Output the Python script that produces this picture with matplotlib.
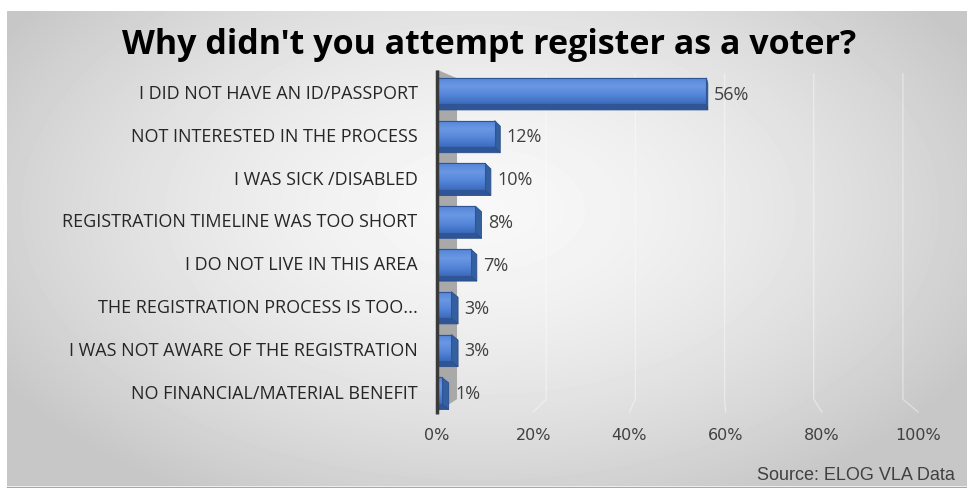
import numpy as np
import matplotlib
matplotlib.use('Agg')
import matplotlib.pyplot as plt
from matplotlib.patches import Polygon
from matplotlib.colors import LinearSegmentedColormap

# chart data
categories = [
    'I DID NOT HAVE AN ID/PASSPORT',
    'NOT INTERESTED IN THE PROCESS',
    'I WAS SICK /DISABLED',
    'REGISTRATION TIMELINE WAS TOO SHORT',
    'I DO NOT LIVE IN THIS AREA',
    'THE REGISTRATION PROCESS IS TOO...',
    'I WAS NOT AWARE OF THE REGISTRATION',
    'NO FINANCIAL/MATERIAL BENEFIT',
]
values = [56, 12, 10, 8, 7, 3, 3, 1]
ticks = [0, 20, 40, 60, 80, 100]
tick_labels = ['0%', '20%', '40%', '60%', '80%', '100%']

W, H = 967, 489
fig = plt.figure(figsize=(W / 100, H / 100), dpi=100)
fig.patch.set_facecolor('white')

# gray radial-gradient panel behind everything
bg = fig.add_axes([0, 0, 1, 1])
xx, yy = np.meshgrid(np.arange(7, W), np.arange(12, 487))
r = np.sqrt(((xx - 480) / 560) ** 2 + ((yy - 210) / 330) ** 2)
shade = 0.97 - 0.19 * np.clip(r, 0, 1) ** 1.6
bg.imshow(shade, cmap='gray', vmin=0, vmax=1, extent=(7, W, 487, 12),
          aspect='auto', interpolation='bilinear')
bg.plot([7, W], [487.5, 487.5], color='#a8a8a8', lw=1)
bg.set_xlim(0, W)
bg.set_ylim(H, 0)
bg.axis('off')

ax = fig.add_axes([437 / W, 1 - 413 / H, 481 / W, (413 - 70.7) / H])
ax.patch.set_alpha(0)
for s in ax.spines.values():
    s.set_visible(False)

n = len(categories)
vp, k = 57, 0.073          # fake perspective: vanishing x and depth factor
top, bot = -0.5, n - 0.5

# back wall on the left
back0 = vp * k
ax.add_patch(Polygon([(0, top), (back0, top + 0.2), (back0, bot - 0.3), (0, bot)],
                     closed=True, facecolor='#a9a9a9', edgecolor='none', zorder=1))
ax.plot([0, 0], [top, bot + 0.05], color='#3a3a3a', lw=2.5, zorder=5,
        solid_capstyle='butt', clip_on=False)

# gridlines on the back, with the slanted floor edge
for v in ticks[1:]:
    b = v + (vp - v) * k
    ax.plot([b, b, v], [top + 0.1, bot - 0.3, bot], color='white', alpha=0.4,
            lw=1, zorder=1, clip_on=False)

bar_cmap = LinearSegmentedColormap.from_list(
    'bar', ['#5585d8', '#6a98e4', '#5585d8', '#3c6bbd'])
h, dy = 0.62, 0.13
for i, v in enumerate(values):
    dxb = max((vp - v) * k * 0.35, 0.3)
    # bottom face
    ax.add_patch(Polygon([(0, i + h / 2), (v, i + h / 2), (v + dxb, i + h / 2 + dy),
                          (0.3, i + h / 2 + dy)], closed=True,
                         facecolor='#2f5597', edgecolor='#2a4d8a', lw=0.6, zorder=2))
    # right face
    ax.add_patch(Polygon([(v, i - h / 2), (v + dxb, i - h / 2 + dy),
                          (v + dxb, i + h / 2 + dy), (v, i + h / 2)], closed=True,
                         facecolor='#35609f', edgecolor='#2a4d8a', lw=0.6, zorder=2))
    # front face with vertical gradient
    bar = ax.barh(i, v, height=h, color='#4a7dd0', edgecolor='#2f5597',
                  lw=0.8, zorder=3)[0]
    im = ax.imshow(np.linspace(0, 1, 50).reshape(-1, 1), cmap=bar_cmap,
                   extent=(0, v, i + h / 2, i - h / 2), aspect='auto', zorder=3.5)
    im.set_clip_path(bar)
    ax.barh(i, v, height=h, color='none', edgecolor='#2f5597', lw=0.8, zorder=4)
    ax.text(v + dxb + 1.3, i + 0.06, f'{v}%', va='center', ha='left',
            fontsize=13, color='#404040', family='Open Sans')

ax.set_xlim(0, 100)
ax.set_ylim(bot, top)
ax.set_xticks(ticks)
ax.set_xticklabels(tick_labels, fontsize=11.5, color='#404040', family='DejaVu Sans')
ax.set_yticks(range(n))
ax.set_yticklabels(categories, fontsize=13, color='#262626', family='Open Sans')
ax.tick_params(axis='x', length=0, pad=11)
ax.tick_params(axis='y', length=0, pad=14)

fig.text(489.5 / W, 1 - 45 / H, "Why didn't you attempt register as a voter?",
         ha='center', va='center', fontsize=24.5, fontweight='bold', family='Open Sans',
         color='black')
fig.text(955 / W, 1 - 476 / H, 'Source: ELOG VLA Data', ha='right', va='center',
         fontsize=13, family='Liberation Sans', color='#404040')

fig.savefig('out.png', dpi=100)
